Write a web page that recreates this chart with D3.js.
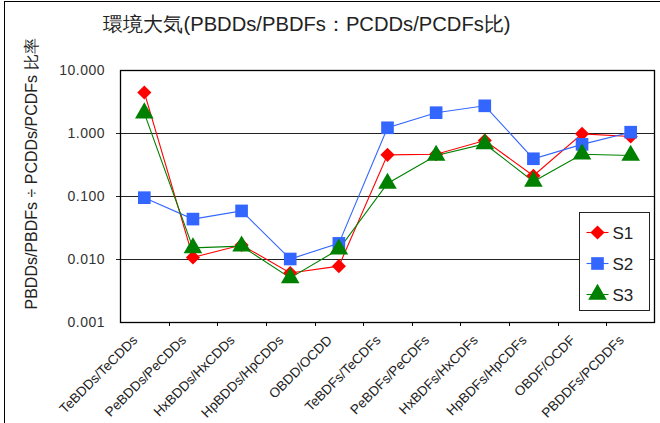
<!DOCTYPE html>
<html>
<head>
<meta charset="utf-8">
<script src="https://cdn.jsdelivr.net/npm/d3@7"></script>
<style>
  body { margin: 0; background: #fff; }
  text { font-family: "Liberation Sans", Arial, sans-serif; }
</style>
</head>
<body>
<div class="chart"></div>
<script>
// categories and series
let categories = [
  "TeBDDs/TeCDDs", "PeBDDs/PeCDDs", "HxBDDs/HxCDDs", "HpBDDs/HpCDDs", "OBDD/OCDD",
  "TeBDFs/TeCDFs", "PeBDFs/PeCDFs", "HxBDFs/HxCDFs", "HpBDFs/HpCDFs", "OBDF/OCDF", "PBDDFs/PCDDFs"
];
let s1 = [4.4, 0.0106, 0.0167, 0.0060, 0.0077, 0.45, 0.46, 0.76, 0.21, 0.97, 0.88];
let s2 = [0.094, 0.043, 0.058, 0.010, 0.0177, 1.21, 2.1, 2.7, 0.39, 0.66, 1.03];
let s3 = [2.07, 0.015, 0.016, 0.0050, 0.0143, 0.158, 0.44, 0.67, 0.17, 0.46, 0.44];
let yTicks = [0.001, 0.01, 0.1, 1, 10];
let yTickLabels = ["0.001", "0.010", "0.100", "1.000", "10.000"];

let series = [
  { name: "S1", values: s1, color: "#ff0000", shape: d3.symbolSquare, size: 100, rot: 45 },
  { name: "S2", values: s2, color: "#3366ff", shape: d3.symbolSquare, size: 160, rot: 0 },
  { name: "S3", values: s3, color: "#008000", shape: d3.symbolTriangle, size: 150, rot: 0 },
];

let margin = { top: 70, right: 5, bottom: 101, left: 120 };
let width = 660 - margin.left - margin.right;
let height = 423 - margin.top - margin.bottom;

let root = d3.select(".chart").append("svg").attr("width", 660).attr("height", 423);

// outer frame
root.append("rect")
  .attr("x", 4.5).attr("y", 1.5).attr("width", 700).attr("height", 500)
  .attr("fill", "none").attr("stroke", "#000");

root.append("text")
  .attr("x", 307).attr("y", 31)
  .attr("text-anchor", "middle")
  .style("font-size", "20.2px")
  .style("fill", "#222")
  .text("環境大気(PBDDs/PBDFs：PCDDs/PCDFs比)");

root.append("text")
  .attr("transform", "translate(37, 174) rotate(-90)")
  .attr("text-anchor", "middle")
  .style("font-size", "16px")
  .style("fill", "#222")
  .text("PBDDs/PBDFs ÷ PCDDs/PCDFs 比率");

let svg = root.append("g").attr("transform", `translate(${margin.left}, ${margin.top})`);

let xScale = d3.scaleBand().domain(categories).range([0, width]);
let yScale = d3.scaleLog().domain([0.001, 10]).range([height, 0]);

// gridlines
svg.selectAll(".grid")
  .data(yTicks.slice(1, -1))
  .enter()
  .append("line")
  .attr("x1", -4).attr("x2", width)
  .attr("y1", (d) => Math.round(yScale(d)) + 0.5)
  .attr("y2", (d) => Math.round(yScale(d)) + 0.5)
  .attr("stroke", "#222");

// y axis labels
let yAxis = d3.axisLeft(yScale).tickValues(yTicks)
  .tickFormat((d, i) => yTickLabels[i]).tickSize(0).tickPadding(15);
svg.append("g").call(yAxis)
  .call((g) => g.select(".domain").remove())
  .selectAll("text")
  .style("font-size", "14px")
  .style("letter-spacing", "0.5px")
  .style("font-family", "Liberation Sans, Arial, sans-serif")
  .style("fill", "#333");

// x axis ticks at category boundaries
svg.selectAll(".xtick")
  .data(categories.slice(1))
  .enter()
  .append("line")
  .attr("x1", (d) => Math.round(xScale(d)) + 0.5)
  .attr("x2", (d) => Math.round(xScale(d)) + 0.5)
  .attr("y1", height).attr("y2", height + 4)
  .attr("stroke", "#000");

svg.selectAll(".xlabel")
  .data(categories)
  .enter()
  .append("text")
  .attr("transform", (d) => `translate(${xScale(d) + xScale.bandwidth() / 2 - 6}, ${height + 19}) rotate(-45)`)
  .attr("text-anchor", "end")
  .style("font-size", "13.5px")
  .style("fill", "#222")
  .text((d) => d);

// plot frame
svg.append("rect")
  .attr("x", 0.5).attr("y", 0.5).attr("width", width - 1).attr("height", height)
  .attr("fill", "none").attr("stroke", "#000").attr("stroke-width", 1.3);

let line = d3.line()
  .x((d, i) => xScale(categories[i]) + xScale.bandwidth() / 2)
  .y((d) => yScale(d));

series.forEach((s) => {
  svg.append("path")
    .datum(s.values)
    .attr("d", line)
    .attr("fill", "none")
    .attr("stroke", s.color)
    .attr("stroke-width", 1.1);
});

series.forEach((s) => {
  svg.selectAll(".m" + s.name)
    .data(s.values)
    .enter()
    .append("path")
    .attr("d", d3.symbol().type(s.shape).size(s.size))
    .attr("transform", (d, i) => `translate(${xScale(categories[i]) + xScale.bandwidth() / 2}, ${yScale(d)}) rotate(${s.rot})`)
    .attr("fill", s.color);
});

// legend
let legend = root.append("g").attr("transform", "translate(579.5, 212.5)");
legend.append("rect")
  .attr("width", 70).attr("height", 98)
  .attr("fill", "#fff").attr("stroke", "#222");
series.forEach((s, i) => {
  let y = 20 + i * 31;
  legend.append("line")
    .attr("x1", 7).attr("x2", 29).attr("y1", y).attr("y2", y)
    .attr("stroke", s.color).attr("stroke-width", 1.1);
  legend.append("path")
    .attr("d", d3.symbol().type(s.shape).size(s.size))
    .attr("transform", `translate(18, ${y}) rotate(${s.rot})`)
    .attr("fill", s.color);
  legend.append("text")
    .attr("x", 33).attr("y", y + 6)
    .style("font-size", "17px")
    .style("fill", "#222")
    .text(s.name);
});
</script>
</body>
</html>
